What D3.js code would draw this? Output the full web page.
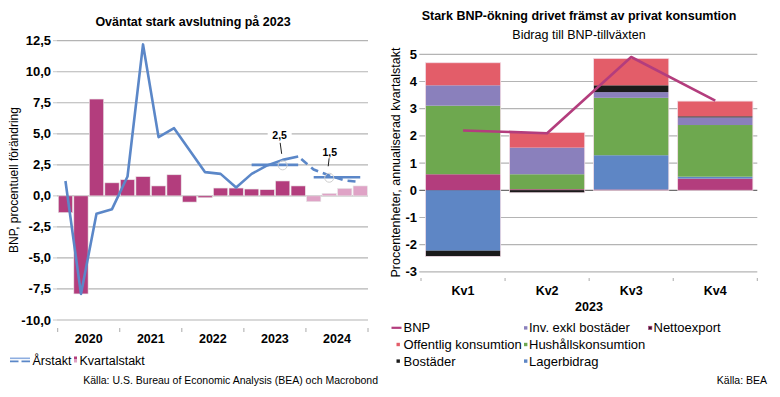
<!DOCTYPE html>
<html><head><meta charset="utf-8">
<script src="https://cdn.jsdelivr.net/npm/d3@7/dist/d3.min.js"></script>
<style>
html,body{margin:0;padding:0;background:#fff;}
svg{display:block;font-family:"Liberation Sans",Arial,Helvetica,sans-serif;}
</style></head>
<body>
<svg id="c" width="780" height="397"></svg>
<script>
// ---------- Left chart data ----------
const quarters = ["2020K1","2020K2","2020K3","2020K4","2021K1","2021K2","2021K3","2021K4",
  "2022K1","2022K2","2022K3","2022K4","2023K1","2023K2","2023K3","2023K4",
  "2024K1","2024K2","2024K3","2024K4"];
const years = ["2020","2021","2022","2023","2024"];
const kvartalstakt = [-1.35,-7.9,7.8,1.05,1.3,1.55,0.8,1.7,-0.5,-0.15,0.63,0.63,0.55,0.5,1.2,0.8];
const kvartalstaktPrognos = [-0.47,0.2,0.6,0.8];
const arstakt = [1.2,-7.9,-1.45,-1.07,1.56,12.2,4.73,5.45,3.68,1.91,1.77,0.67,1.77,2.45,2.9,3.17];
const arstaktPrognosKv = ["2023K4","2024K1","2024K2","2024K3","2024K4"];
const arstaktPrognos = [3.17,2.12,1.64,1.24,1.12];
const snittAr = ["2023","2024"];
const snittVarden = [2.5,1.5];
const snittEtiketter = ["2,5","1,5"];
const snittKvartal = ["2023K3","2024K2"];
const yTicksL = [-10,-7.5,-5,-2.5,0,2.5,5,7.5,10,12.5];

// ---------- Right chart data ----------
const kvartal = ["Kv1","Kv2","Kv3","Kv4"];
const komponenter = ["Nettoexport","Lagerbidrag","Hushållskonsumtion","Inv. exkl bostäder","Bostäder","Offentlig konsumtion"];
const nettoexport = [0.59,0.04,0.03,0.43];
const lagerbidrag = [-2.22,0.0,1.26,0.07];
const hushallskonsumtion = [2.52,0.55,2.11,1.90];
const invExklBostader = [0.75,0.98,0.21,0.28];
const bostader = [-0.21,-0.09,0.25,0.04];
const offentligKonsumtion = [0.83,0.56,0.99,0.56];
const bnp = [2.2,2.1,4.9,3.3];
const yTicksR = [-3,-2,-1,0,1,2,3,4,5];

// ---------- Colors ----------
const cBlue = "#5b87c8", cMag = "#b33d7d", cPink = "#dfa3c6";
const compColor = {
  "Nettoexport":"#b33d7d","Lagerbidrag":"#5e86c5","Hushållskonsumtion":"#6ea84f",
  "Inv. exkl bostäder":"#8a80bc","Bostäder":"#1b1b1b","Offentlig konsumtion":"#e35d69"
};

const loc = d3.formatLocale({decimal:",",thousands:" ",grouping:[3],currency:["","kr"],minus:"-"});
const f1 = loc.format(".1f"), f0 = loc.format("d");

const svg = d3.select("#c");

// ======== LEFT CHART ========
const L = svg.append("g");
const yL = d3.scaleLinear().domain([-10,12.5]).range([320,40.7]);
const xL = d3.scaleBand().domain(quarters).range([57.7,368]).paddingInner(0.08).paddingOuter(0.04);
const xY = d3.scaleBand().domain(years).range([57.7,368]);

L.append("text").attr("x",193).attr("y",25.5).attr("text-anchor","middle")
  .attr("font-weight","bold").attr("font-size",12.5).text("Oväntat stark avslutning på 2023");

L.selectAll(".gl").data(yTicksL).join("line")
  .attr("x1",57).attr("x2",368).attr("y1",d=>yL(d)).attr("y2",d=>yL(d))
  .attr("stroke","#b4b4b4").attr("stroke-width",1.2);
L.selectAll(".tm").data(yTicksL).join("line")
  .attr("x1",53).attr("x2",57).attr("y1",d=>yL(d)).attr("y2",d=>yL(d))
  .attr("stroke","#c8c8c8").attr("stroke-width",1);
L.selectAll(".tl").data(yTicksL).join("text")
  .attr("x",51).attr("y",d=>yL(d)+4.5).attr("text-anchor","end")
  .attr("font-weight","bold").attr("font-size",13).text(d=>f1(d));

L.append("text").attr("transform","translate(18,180) rotate(-90)").attr("text-anchor","middle")
  .attr("font-size",12).text("BNP, procentuell förändring");

// bars
const barsAll = quarters.map((q,i)=>({q, v: i<kvartalstakt.length ? kvartalstakt[i] : kvartalstaktPrognos[i-kvartalstakt.length], prog: i>=kvartalstakt.length}));
L.selectAll(".bar").data(barsAll).join("rect")
  .attr("x",d=>xL(d.q)).attr("width",xL.bandwidth())
  .attr("y",d=>yL(Math.max(0,d.v))).attr("height",d=>Math.abs(yL(d.v)-yL(0)))
  .attr("fill",d=>d.prog?cPink:cMag).attr("stroke","#e8e8e8").attr("stroke-width",0.6);

// year ticks and labels
const yb = years.map(y=>xY(y)).concat([xY.range()[1]]);
L.selectAll(".yt").data(yb).join("line")
  .attr("x1",d=>d).attr("x2",d=>d).attr("y1",328).attr("y2",332)
  .attr("stroke","#aaa").attr("stroke-width",1);
L.selectAll(".yl").data(years).join("text")
  .attr("x",d=>xY(d)+xY.bandwidth()/2).attr("y",343).attr("text-anchor","middle")
  .attr("font-weight","bold").attr("font-size",12.5).text(d=>d);

// annual line
const cx = q=>xL(q)+xL.bandwidth()/2;
const lineL = d3.line().x(d=>cx(d.q)).y(d=>yL(d.v));
L.append("path").datum(arstakt.map((v,i)=>({q:quarters[i],v})))
  .attr("d",lineL).attr("fill","none").attr("stroke",cBlue).attr("stroke-width",2.6).attr("stroke-linejoin","round");
L.append("path").datum(arstaktPrognos.map((v,i)=>({q:arstaktPrognosKv[i],v})))
  .attr("d",lineL).attr("fill","none").attr("stroke",cBlue).attr("stroke-width",2.6)
  .attr("stroke-dasharray","8,5").attr("stroke-dashoffset",-4);

// annual averages
snittAr.forEach((yr,i)=>{
  const qs = quarters.filter(q=>q.startsWith(yr));
  const x1 = cx(qs[0]), x2 = cx(qs[qs.length-1]);
  L.append("line").attr("x1",x1).attr("x2",x2).attr("y1",yL(snittVarden[i])).attr("y2",yL(snittVarden[i]))
    .attr("stroke",cBlue).attr("stroke-width",2.6);
});
// annotations
const annLabelDy = [26, 21];
const annLeaderTop = [22, 24];
snittAr.forEach((yr,i)=>{
  const x = cx(snittKvartal[i]), y = yL(snittVarden[i]);
  L.append("circle").attr("cx",x).attr("cy",y+0.5).attr("r",4.5).attr("fill","none").attr("stroke","#cfcfcf").attr("stroke-width",1);
  L.append("line").attr("x1",x-1).attr("x2",x-2.5+i*3).attr("y1",y-11).attr("y2",y-annLeaderTop[i]).attr("stroke","#222").attr("stroke-width",1);
  const ty = y - annLabelDy[i];
  const lx = x - 3 + i*3.5;
  L.append("rect").attr("x",lx-12).attr("y",ty-12).attr("width",24).attr("height",14).attr("fill","#fff");
  L.append("text").attr("x",lx).attr("y",ty).attr("text-anchor","middle")
    .attr("font-weight","bold").attr("font-size",10.5).text(snittEtiketter[i]);
});

// left legend
L.append("line").attr("x1",10).attr("x2",30).attr("y1",358.3).attr("y2",358.3).attr("stroke","#8eaee0").attr("stroke-width",1.6);
L.append("line").attr("x1",10).attr("x2",30).attr("y1",361.3).attr("y2",361.3).attr("stroke",cBlue).attr("stroke-width",1.8).attr("stroke-dasharray","8.5,3");
L.append("text").attr("x",32.5).attr("y",364.5).attr("font-size",12.5).text("Årstakt");
L.append("rect").attr("x",74).attr("y",356.5).attr("width",3).attr("height",3).attr("fill",cMag);
L.append("rect").attr("x",74).attr("y",359.5).attr("width",3).attr("height",3).attr("fill",cPink);
L.append("text").attr("x",79.5).attr("y",364.5).attr("font-size",12.5).text("Kvartalstakt");
L.append("text").attr("x",378).attr("y",384).attr("text-anchor","end").attr("font-size",10.5)
  .text("Källa: U.S. Bureau of Economic Analysis (BEA) och Macrobond");

// ======== RIGHT CHART ========
const R = svg.append("g");
const yR = d3.scaleLinear().domain([-3,5]).range([271.9,54.3]);
const xR = d3.scaleBand().domain(kvartal).range([421,757.3]).paddingInner(0.105).paddingOuter(0.0525);
const xRo = d3.scaleBand().domain(kvartal).range([421,757.3]);

R.append("text").attr("x",579).attr("y",19.5).attr("text-anchor","middle")
  .attr("font-weight","bold").attr("font-size",12.5).text("Stark BNP-ökning drivet främst av privat konsumtion");
R.append("text").attr("x",579).attr("y",39).attr("text-anchor","middle")
  .attr("font-size",12.5).text("Bidrag till BNP-tillväxten");

R.selectAll(".gl").data(yTicksR).join("line")
  .attr("x1",419.3).attr("x2",757.3).attr("y1",d=>yR(d)).attr("y2",d=>yR(d))
  .attr("stroke",d=>d===0?"#6e6e6e":"#b4b4b4").attr("stroke-width",1.2);
R.selectAll(".tl").data(yTicksR).join("text")
  .attr("x",417).attr("y",d=>yR(d)+4.5).attr("text-anchor","end")
  .attr("font-weight","bold").attr("font-size",13).text(d=>f0(d));
R.append("text").attr("transform","translate(400,162.5) rotate(-90)").attr("text-anchor","middle")
  .attr("font-size",12.5).text("Procentenheter, annualiserad kvartalstakt");

// stacked bars
const seriesVals = {"Nettoexport":nettoexport,"Lagerbidrag":lagerbidrag,"Hushållskonsumtion":hushallskonsumtion,
  "Inv. exkl bostäder":invExklBostader,"Bostäder":bostader,"Offentlig konsumtion":offentligKonsumtion};
const table = kvartal.map((k,i)=>{const o={kv:k}; komponenter.forEach(c=>o[c]=seriesVals[c][i]); return o;});
const stacked = d3.stack().keys(komponenter).offset(d3.stackOffsetDiverging)(table);
stacked.forEach(s=>{
  R.selectAll(null).data(s).join("rect")
    .attr("x",d=>xR(d.data.kv)).attr("width",xR.bandwidth())
    .attr("y",d=>yR(Math.max(d[0],d[1]))).attr("height",d=>Math.abs(yR(d[0])-yR(d[1])))
    .attr("fill",compColor[s.key]);
});
// light outline around each bar stack
kvartal.forEach((k,i)=>{
  const top = d3.max(stacked,s=>Math.max(s[i][0],s[i][1]));
  const bot = d3.min(stacked,s=>Math.min(s[i][0],s[i][1]));
  R.append("rect").attr("x",xR(k)).attr("width",xR.bandwidth()).attr("y",yR(top)).attr("height",yR(bot)-yR(top))
    .attr("fill","none").attr("stroke","#f2dce6").attr("stroke-width",0.8);
});
// x ticks
const xb = kvartal.map(k=>xRo(k)).concat([xRo.range()[1]]);
R.selectAll(".xt").data(xb).join("line")
  .attr("x1",d=>d).attr("x2",d=>d).attr("y1",278).attr("y2",281).attr("stroke","#aaa");
R.selectAll(".xl").data(kvartal).join("text")
  .attr("x",d=>xRo(d)+xRo.bandwidth()/2).attr("y",295).attr("text-anchor","middle")
  .attr("font-weight","bold").attr("font-size",12.5).text(d=>d);
R.append("text").attr("x",589).attr("y",310.5).attr("text-anchor","middle")
  .attr("font-weight","bold").attr("font-size",12.5).text("2023");

// BNP line
R.append("path").datum(bnp.map((v,i)=>({k:kvartal[i],v})))
  .attr("d",d3.line().x(d=>xRo(d.k)+xRo.bandwidth()/2).y(d=>yR(d.v)))
  .attr("fill","none").attr("stroke",cMag).attr("stroke-width",2.6).attr("stroke-linejoin","round");

// right legend
const legItems = [
  {t:"BNP",type:"line",c:cMag,col:0,row:0},
  {t:"Inv. exkl bostäder",type:"sq",c:compColor["Inv. exkl bostäder"],col:1,row:0},
  {t:"Nettoexport",type:"sq2",c:compColor["Nettoexport"],col:2,row:0},
  {t:"Offentlig konsumtion",type:"sq",c:compColor["Offentlig konsumtion"],col:0,row:1},
  {t:"Hushållskonsumtion",type:"sq",c:compColor["Hushållskonsumtion"],col:1,row:1},
  {t:"Bostäder",type:"sq",c:compColor["Bostäder"],col:0,row:2},
  {t:"Lagerbidrag",type:"sq",c:compColor["Lagerbidrag"],col:1,row:2}
];
const colX = [391.5,524,648.5], rowY = [327.8,344.4,361];
legItems.forEach(it=>{
  const x = colX[it.col], y = rowY[it.row];
  if(it.type==="line"){
    R.append("line").attr("x1",x).attr("x2",x+10).attr("y1",y).attr("y2",y).attr("stroke",it.c).attr("stroke-width",2.2);
  } else {
    R.append("rect").attr("x",x+(it.col===0?5:0)).attr("y",y-1.6).attr("width",3.4).attr("height",3.4)
      .attr("fill",it.type==="sq2"?"#3a1a2a":it.c).attr("stroke",it.type==="sq2"?it.c:"none").attr("stroke-width",0.6);
  }
  R.append("text").attr("x",x+(it.col===0?12:5)).attr("y",y+4.5).attr("font-size",13).text(it.t);
});
R.append("text").attr("x",767).attr("y",384).attr("text-anchor","end").attr("font-size",10.5).text("Källa: BEA");
</script>
</body></html>
